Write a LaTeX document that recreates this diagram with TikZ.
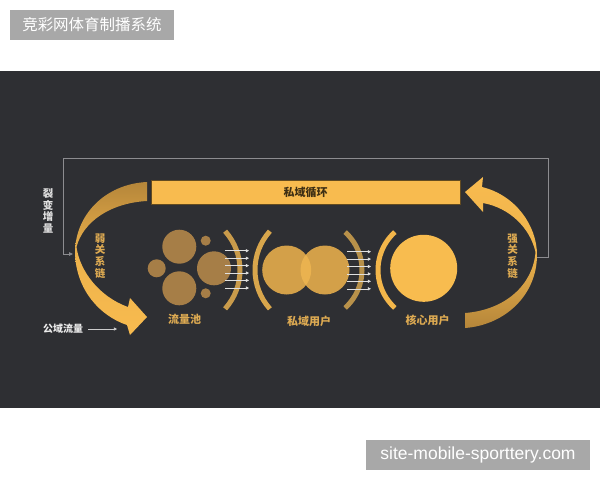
\documentclass[tikz,border=0pt]{standalone}
\usepackage{fontspec}
\setmainfont{Noto Sans CJK SC}
\newfontfamily\urlfont{Liberation Sans}
\usetikzlibrary{arrows.meta}
\definecolor{bg}{HTML}{2E2F33}
\definecolor{boxgray}{HTML}{A8A8A8}
\definecolor{barcol}{HTML}{F8BB4F}
\definecolor{goldtext}{HTML}{DDAA52}
\definecolor{poolcol}{HTML}{A67E47}
\definecolor{privcol}{HTML}{D3A049}
\definecolor{lenscol}{HTML}{EAB24F}
\definecolor{corecol}{HTML}{F8BC4F}
\definecolor{arcA}{HTML}{C99B4B}
\definecolor{arcB}{HTML}{D8A64C}
\definecolor{arcC}{HTML}{B8914A}
\definecolor{arcD}{HTML}{F3B64A}
\definecolor{darkgold}{HTML}{B5863A}
\definecolor{framegray}{HTML}{8C8C90}
\tikzset{
  labelbox/.style={fill=boxgray, text=white, inner sep=0pt},
  vtext/.style={align=center, font=\bfseries\fontsize{10.5}{11.7}\selectfont, inner sep=0pt},
  goldlabel/.style={text=goldtext, font=\bfseries\fontsize{11}{13}\selectfont, inner sep=0pt},
  ringarc/.style={line width=5pt},
  flowarr/.style={draw=white!88!black, line width=0.6pt, -{Triangle[length=3.2pt,width=3.2pt]}},
  framearr/.style={draw=framegray, line width=0.8pt, -{Triangle[length=4pt,width=3.5pt]}},
}
\begin{document}
\begin{tikzpicture}[x=1pt,y=-1pt]
\useasboundingbox (0,0) rectangle (600,480);
\fill[white] (0,0) rectangle (600,480);
\fill[bg] (0,71) rectangle (600,408);

% header / footer labels
\node[labelbox, minimum width=164pt, minimum height=30pt, font=\fontsize{15.5}{18}\selectfont] (title) at (92,25) {竞彩网体育制播系统};
\node[labelbox, minimum width=224pt, minimum height=30pt, font=\urlfont\fontsize{17.5}{20}\selectfont] (site) at (478,455) {site-mobile-sporttery.com};

% frame connector (fission growth loop)
\coordinate (fr0) at (537,257);
\coordinate (fr1) at (548,257);
\coordinate (fr2) at (548,158);
\coordinate (fr3) at (63,158);
\coordinate (fr4) at (63,254);
\coordinate (fr5) at (73,254);
\draw[framearr] (fr0) -- (fr1) -- (fr2) -- (fr3) -- (fr4) -- (fr5);

% private loop bar
\node[fill=barcol, draw=black!60!barcol, line width=0.4pt, minimum width=309pt, minimum height=24pt, inner sep=0pt, text=black!75!barcol, font=\bfseries\fontsize{11}{13}\selectfont] (loop) at (305.5,192) {私域循环};

% left big arrow (weak ties)
\shade[top color=darkgold, bottom color=barcol, middle color=barcol!85!darkgold]
  (147,182) .. controls (105,184) and (75,215) .. (75,253)
  .. controls (76,290) and (100,316) .. (127,325)
  -- (130,335) -- (147,317) -- (130,298) -- (128,307)
  .. controls (100,297) and (80,272) .. (76.5,247)
  .. controls (83,222) and (110,203) .. (147,201) -- cycle;

% right big arrow (strong ties)
\shade[top color=barcol, bottom color=darkgold, middle color=barcol!85!darkgold]
  (465,192) -- (483,177) -- (482,187)
  .. controls (515,195) and (537,225) .. (537,255)
  .. controls (537,295) and (505,325) .. (465,328)
  -- (465,313)
  .. controls (505,310) and (533,285) .. (535.5,252)
  .. controls (530,228) and (510,208) .. (483,203)
  -- (483,212) -- cycle;

% vertical labels
\node[vtext, text=white!88!black] (fission) at (48,211) {裂\\变\\增\\量};
\node[vtext, text=goldtext] (weak) at (100,256) {弱\\关\\系\\链};
\node[vtext, text=goldtext] (strong) at (512.5,256) {强\\关\\系\\链};

% public traffic
\node[text=white!92!black, font=\bfseries\fontsize{10}{12}\selectfont, inner sep=0pt] (public) at (63,329) {公域流量};
\coordinate (pub0) at (88,329);
\coordinate (pub1) at (117,329);
\draw[flowarr, draw=white!80!black] (pub0) -- (pub1);

% traffic pool circles
\fill[poolcol] (179.3,246.7) circle (17);
\fill[poolcol] (156.7,268.3) circle (9);
\fill[poolcol] (179.3,288.3) circle (17);
\fill[poolcol] (214,268.3) circle (17);
\fill[poolcol] (205.7,240.7) circle (5);
\fill[poolcol] (205.7,293.3) circle (5);

% private domain circles
\fill[privcol] (286.7,270) circle (24.5);
\fill[privcol] (325,270) circle (24.5);
\begin{scope}
  \clip (286.7,270) circle (24.5);
  \fill[lenscol] (325,270) circle (24.5);
\end{scope}

% core user circle
\fill[corecol] (423.7,268.3) circle (33.5);

% ring arcs
\draw[ringarc, arcA] (182,270) ++(-42:58) arc[start angle=-42, end angle=42, radius=58];
\draw[ringarc, arcB] (313,270) ++(138:58) arc[start angle=138, end angle=222, radius=58];
\draw[ringarc, arcC] (311,270) ++(-48:51) arc[start angle=-48, end angle=48, radius=51];
\draw[ringarc, arcD] (429,270) ++(132:51) arc[start angle=132, end angle=228, radius=51];

% flow arrows
\foreach \i/\y in {1/250.7,2/258.2,3/265.6,4/273,5/280.4,6/288} {
  \coordinate (fa\i) at (225,\y);
  \coordinate (fb\i) at (249,\y);
  \draw[flowarr] (fa\i) -- (fb\i);
}
\foreach \i/\y in {1/251.7,2/259.1,3/266.5,4/273.9,5/281.3,6/288.8} {
  \coordinate (ga\i) at (347,\y);
  \coordinate (gb\i) at (371,\y);
  \draw[flowarr] (ga\i) -- (gb\i);
}

% stage labels
\node[goldlabel] (pool) at (184.7,319.5) {流量池};
\node[goldlabel] (priv) at (309,321) {私域用户};
\node[goldlabel] (core) at (427.5,320) {核心用户};
\end{tikzpicture}
\end{document}
